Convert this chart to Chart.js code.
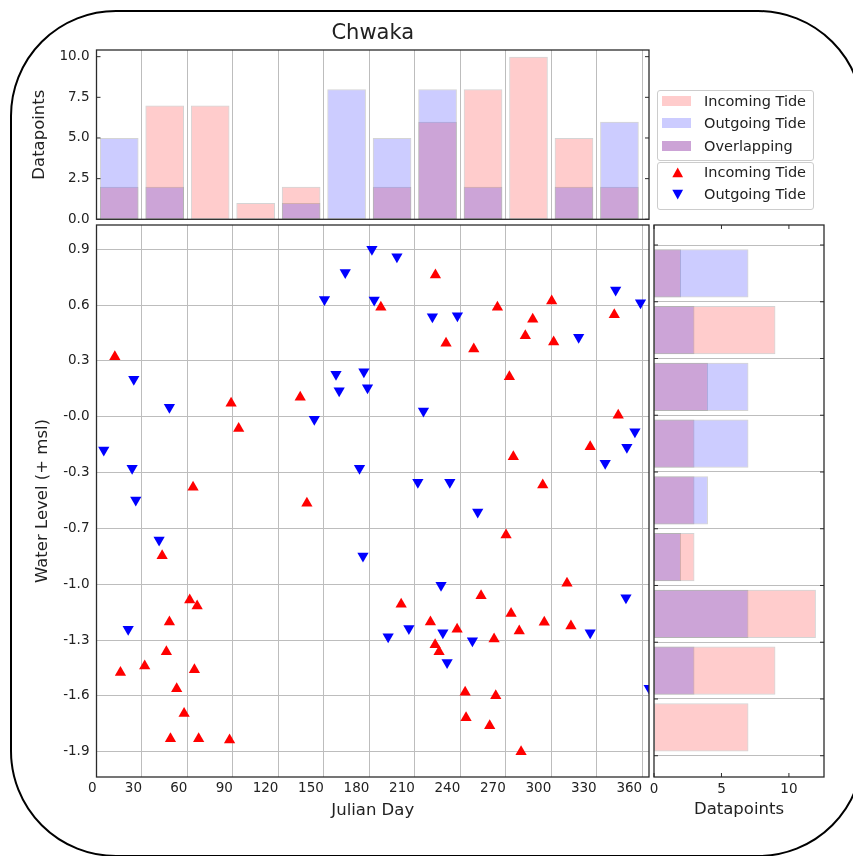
<!DOCTYPE html>
<html>
<head>
<meta charset="utf-8">
<title>Chwaka</title>
<script src="https://cdn.jsdelivr.net/npm/chart.js@4.4.1/dist/chart.umd.min.js"></script>
<style>
  html, body { margin: 0; padding: 0; background: #fff; overflow: hidden; }
  #page { position: relative; width: 853px; height: 856px; overflow: hidden; font-family: 'DejaVu Sans', sans-serif; color: #222; }
  #page canvas { position: absolute; left: 0; top: 0; }
  #frame { position: absolute; left: 10px; top: 10px; width: 850px; height: 843px; border: 2px solid #000; border-radius: 106px; pointer-events: none; }
  .lgbox { position: absolute; left: 657px; width: 155px; border: 1px solid #cccccc; border-radius: 3px; background: #fff; }
  .sw { position: absolute; left: 662px; width: 29px; height: 10px; }
  .lt { position: absolute; left: 704px; height: 18px; line-height: 18px; font-size: 14.5px; white-space: nowrap; }
</style>
</head>
<body>
<div id="page">
  <canvas id="chart-top" width="853" height="856"></canvas>
  <canvas id="chart-main" width="853" height="856"></canvas>
  <canvas id="chart-side" width="853" height="856"></canvas>

  <!-- legenda: istogrammi e marker -->
  <div class="lgbox" style="top:90px;height:69px;"></div>
  <div class="sw" style="top:96px;background:#ffcccc;"></div>
  <div class="lt" style="top:92px;">Incoming Tide</div>
  <div class="sw" style="top:118px;background:#ccccff;"></div>
  <div class="lt" style="top:114px;">Outgoing Tide</div>
  <div class="sw" style="top:141px;background:#cca3d6;"></div>
  <div class="lt" style="top:137px;">Overlapping</div>

  <div class="lgbox" style="top:162px;height:46px;"></div>
  <svg style="position:absolute;left:0;top:0;" width="853" height="856">
    <polygon points="672.3,177.3 683.1,177.3 677.7,167.6" fill="#ff0000"/>
    <polygon points="672.3,189.7 683.1,189.7 677.7,199.4" fill="#0000ff"/>
  </svg>
  <div class="lt" style="top:163px;">Incoming Tide</div>
  <div class="lt" style="top:185px;">Outgoing Tide</div>

  <div id="frame"></div>
</div>

<script>
// Punti osservati: [giorno giuliano, livello dell'acqua]
const incomingDays = [12.1, 88.8, 93.8, 134.4, 63.7, 138.8, 187.6, 223.6, 264.5, 300.3, 341.6, 287.8, 282.9,
  301.6, 230.6, 248.9, 272.4, 344.2, 325.7, 275.0, 294.4, 43.3, 61.5, 66.4, 48.1, 46.1, 31.8, 15.8, 64.6,
  52.9, 57.8, 48.8, 67.4, 87.8, 270.2, 310.4, 253.7, 201.0, 273.5, 220.3, 295.4, 313.0, 237.9, 278.9,
  262.3, 223.4, 226.0, 243.2, 263.4, 243.8, 259.4, 280.1];
const incomingLevels = [0.298, 0.037, -0.103, 0.071, -0.432, -0.522, 0.574, 0.754, 0.574, 0.609, 0.532, 0.507, 0.415,
  0.380, 0.373, 0.341, 0.186, -0.030, -0.205, -0.261, -0.420, -0.815, -1.062, -1.096, -1.185, -1.351, -1.431, -1.467, -1.452,
  -1.558, -1.696, -1.838, -1.838, -1.845, -0.699, -0.969, -1.038, -1.086, -1.137, -1.185, -1.187, -1.208, -1.226, -1.236,
  -1.280, -1.312, -1.351, -1.578, -1.597, -1.720, -1.765, -1.910];

const outgoingDays = [24.6, 48.1, 143.7, 150.4, 164.1, 181.7, 183.2, 158.0, 160.1, 176.4, 178.8, 4.8, 23.5, 25.9,
  173.5, 198.2, 342.5, 358.9, 221.6, 238.1, 318.1, 215.7, 355.2, 349.9, 335.6, 212.0, 233.1, 251.5, 41.3,
  175.8, 20.9, 227.3, 349.3, 206.1, 192.4, 228.5, 325.7, 248.0, 231.3, 364.6];
const outgoingLevels = [0.171, 0.015, -0.052, 0.618, 0.769, 0.898, 0.615, 0.199, 0.108, 0.214, 0.124, -0.224, -0.326, -0.503,
  -0.326, 0.857, 0.670, 0.599, 0.521, 0.527, 0.406, -0.006, -0.122, -0.209, -0.298, -0.404, -0.404, -0.570, -0.727,
  -0.816, -1.225, -0.980, -1.050, -1.221, -1.268, -1.245, -1.245, -1.290, -1.411, -1.556];

// Istogramma per giorno (classi di 30 giorni)
const dayBinCenters = [15, 45, 75, 105, 135, 165, 195, 225, 255, 285, 315, 345];
const dayCountIn = [2, 7, 7, 1, 2, 0, 2, 6, 8, 10, 5, 2];
const dayCountOut = [5, 2, 0, 0, 1, 8, 5, 8, 2, 0, 2, 6];

// Istogramma per livello (dal basso verso l'alto)
const levelBinCenters = [-1.754, -1.442, -1.130, -0.818, -0.506, -0.194, 0.118, 0.430, 0.742];
const levelCountIn = [7, 9, 12, 3, 3, 3, 4, 9, 2];
const levelCountOut = [0, 3, 7, 2, 4, 7, 7, 3, 7];

// Tacche degli assi
const dayTicks = [0, 30, 60, 90, 120, 150, 180, 210, 240, 270, 300, 330, 360];
const levelEdges = [-1.910, -1.598, -1.286, -0.974, -0.662, -0.350, -0.038, 0.274, 0.586, 0.898];
const levelTickLabels = ['-1.9', '-1.6', '-1.3', '-1.0', '-0.7', '-0.3', '-0.0', '0.3', '0.6', '0.9'];
const countTicksTop = [0, 2.5, 5, 7.5, 10];
const countTicksSide = [0, 5, 10];

const PINK = 'rgba(255, 0, 0, 0.2)';
const BLUE = 'rgba(0, 0, 255, 0.2)';
const EDGE = 'rgba(60, 60, 60, 0.22)';
const GRID = '#bdbdbd';
const SPINE = '#2b2b2b';

Chart.defaults.font.family = "'DejaVu Sans', sans-serif";
Chart.defaults.color = '#222';
Chart.defaults.animation = false;

// cornice completa attorno all'area del grafico
const spines = {
  id: 'spines',
  afterDraw(chart) {
    const { ctx, chartArea: a } = chart;
    ctx.save();
    ctx.strokeStyle = SPINE;
    ctx.lineWidth = 1.3;
    ctx.strokeRect(a.left, a.top, a.right - a.left, a.bottom - a.top);
    ctx.restore();
  }
};

// tacche corte rivolte verso l'interno
const innerTicks = {
  id: 'innerTicks',
  afterDraw(chart, args, opts) {
    const { ctx, chartArea: a } = chart;
    ctx.save();
    ctx.strokeStyle = SPINE;
    ctx.lineWidth = 1;
    (opts.axes || []).forEach(id => {
      const s = chart.scales[id];
      s.ticks.forEach((t, i) => {
        const p = s.getPixelForTick(i);
        ctx.beginPath();
        if (s.isHorizontal()) {
          ctx.moveTo(p, a.bottom); ctx.lineTo(p, a.bottom - 4);
          ctx.moveTo(p, a.top); ctx.lineTo(p, a.top + 4);
        } else {
          ctx.moveTo(a.left, p); ctx.lineTo(a.left + 4, p);
          ctx.moveTo(a.right, p); ctx.lineTo(a.right - 4, p);
        }
        ctx.stroke();
      });
    });
    ctx.restore();
  }
};

function fixedTicks(values) {
  return scale => { scale.ticks = values.map(v => ({ value: v })); };
}

const tickFont = { size: 13.5 };
const labelFont = { size: 16.5 };

// --- istogramma superiore ---
new Chart(document.getElementById('chart-top'), {
  type: 'bar',
  data: {
    datasets: [
      { label: 'Outgoing Tide', data: dayBinCenters.map((d, i) => ({ x: d, y: dayCountOut[i] })),
        backgroundColor: BLUE, borderColor: EDGE, borderWidth: 1, borderSkipped: false, grouped: false },
      { label: 'Incoming Tide', data: dayBinCenters.map((d, i) => ({ x: d, y: dayCountIn[i] })),
        backgroundColor: PINK, borderColor: EDGE, borderWidth: 1, borderSkipped: false, grouped: false }
    ]
  },
  options: {
    responsive: false,
    barPercentage: 0.85,
    categoryPercentage: 1,
    layout: { padding: { top: 21.4, left: 0, right: 204, bottom: 0 } },
    plugins: {
      legend: { display: false },
      tooltip: { enabled: false },
      title: { display: true, text: 'Chwaka', fullSize: false, font: { size: 21, weight: 'normal' },
        color: '#222', padding: { top: 0, bottom: 3.4 } },
      innerTicks: { axes: ['y'] }
    },
    scales: {
      x: {
        type: 'linear', min: 0, max: 364.5, offset: false,
        afterBuildTicks: fixedTicks(dayTicks),
        afterFit: s => { s.height = 636.7; },
        ticks: { display: false },
        grid: { color: GRID, lineWidth: 1, drawTicks: false, offset: false },
        border: { display: false }
      },
      y: {
        type: 'linear', min: 0, max: 10.41,
        afterBuildTicks: fixedTicks(countTicksTop),
        afterFit: s => { s.width = 96.5; },
        ticks: { font: tickFont, padding: 7, callback: v => v.toFixed(1) },
        grid: { display: false, drawTicks: false },
        border: { display: false },
        title: { display: true, text: 'Datapoints', font: labelFont, padding: { top: 30 } }
      }
    }
  },
  plugins: [spines, innerTicks]
});

// --- dispersione principale ---
new Chart(document.getElementById('chart-main'), {
  type: 'scatter',
  data: {
    datasets: [
      { label: 'Incoming Tide', data: incomingDays.map((d, i) => ({ x: d, y: incomingLevels[i] })),
        pointStyle: 'triangle', pointRadius: 6.5, pointBorderWidth: 0,
        backgroundColor: '#ff0000', borderColor: '#ff0000', clip: 0 },
      { label: 'Outgoing Tide', data: outgoingDays.map((d, i) => ({ x: d, y: outgoingLevels[i] })),
        pointStyle: 'triangle', pointRotation: 180, pointRadius: 6.5, pointBorderWidth: 0,
        backgroundColor: '#0000ff', borderColor: '#0000ff', clip: 0 }
    ]
  },
  options: {
    responsive: false,
    layout: { padding: { top: 225, left: 0, right: 204, bottom: 0 } },
    plugins: { legend: { display: false }, tooltip: { enabled: false } },
    scales: {
      x: {
        type: 'linear', min: 0, max: 364.5,
        afterBuildTicks: fixedTicks(dayTicks),
        afterFit: s => { s.height = 79; },
        ticks: { font: tickFont, padding: 3, align: 'end', maxRotation: 0, callback: v => String(v) },
        grid: { color: GRID, lineWidth: 1, drawTicks: false },
        border: { display: false },
        title: { display: true, text: 'Julian Day', font: labelFont, padding: { bottom: 35 } }
      },
      y: {
        type: 'linear', min: -2.0514, max: 1.0338,
        afterBuildTicks: fixedTicks(levelEdges),
        afterFit: s => { s.width = 96.5; },
        ticks: { font: tickFont, padding: 7, callback: (v, i) => levelTickLabels[i] },
        grid: { color: GRID, lineWidth: 1, drawTicks: false },
        border: { display: false },
        title: { display: true, text: 'Water Level (+ msl)', font: labelFont, padding: { top: 33 } }
      }
    }
  },
  plugins: [spines]
});

// --- istogramma laterale ---
new Chart(document.getElementById('chart-side'), {
  type: 'bar',
  data: {
    datasets: [
      { label: 'Outgoing Tide', data: levelBinCenters.map((l, i) => ({ x: levelCountOut[i], y: l })),
        backgroundColor: BLUE, borderColor: EDGE, borderWidth: 1, borderSkipped: false, grouped: false },
      { label: 'Incoming Tide', data: levelBinCenters.map((l, i) => ({ x: levelCountIn[i], y: l })),
        backgroundColor: PINK, borderColor: EDGE, borderWidth: 1, borderSkipped: false, grouped: false }
    ]
  },
  options: {
    responsive: false,
    indexAxis: 'y',
    barPercentage: 0.85,
    categoryPercentage: 1,
    layout: { padding: { top: 225, left: 654, right: 29, bottom: 0 } },
    plugins: { legend: { display: false }, tooltip: { enabled: false }, innerTicks: { axes: ['x', 'y'] } },
    scales: {
      x: {
        type: 'linear', min: 0, max: 12.6,
        afterBuildTicks: fixedTicks(countTicksSide),
        afterFit: s => { s.height = 79; },
        ticks: { font: tickFont, padding: 4, maxRotation: 0, callback: v => String(v) },
        grid: { display: false, drawTicks: false },
        border: { display: false },
        title: { display: true, text: 'Datapoints', font: labelFont, padding: { bottom: 36 } }
      },
      y: {
        type: 'linear', position: 'left', min: -2.027, max: 1.008, offset: false,
        afterBuildTicks: fixedTicks(levelEdges),
        afterFit: s => { s.width = 0; },
        ticks: { display: false },
        grid: { color: GRID, lineWidth: 1, drawTicks: false, offset: false },
        border: { display: false }
      }
    }
  },
  plugins: [spines, innerTicks]
});
</script>
</body>
</html>
